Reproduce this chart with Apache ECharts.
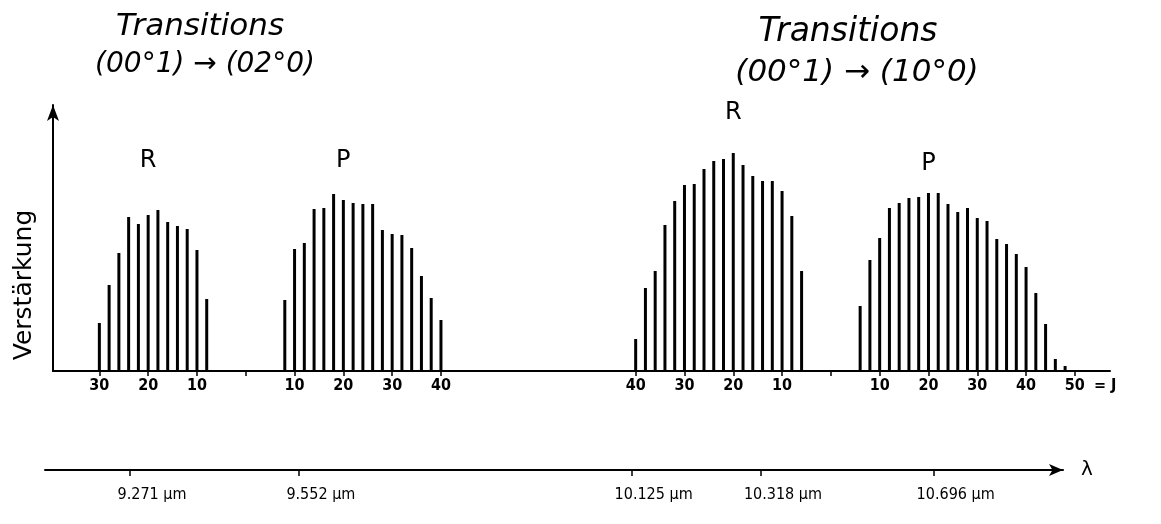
<!DOCTYPE html>
<html>
<head>
<meta charset="utf-8">
<script src="https://cdn.jsdelivr.net/npm/echarts@6/dist/echarts.min.js"></script>
<style>
  html, body { margin: 0; padding: 0; background: #fff; }
  #chart { width: 1161px; height: 524px; }
</style>
</head>
<body>
<div id="chart"></div>
<script>
// rotational lines J and relative gain (Verstärkung)
const rJ94 = [30, 28, 26, 24, 22, 20, 18, 16, 14, 12, 10, 8];
const rGain94 = [48, 86, 118, 154, 147, 156, 161, 149, 145, 142, 121, 72];
const pJ94 = [8, 10, 12, 14, 16, 18, 20, 22, 24, 26, 28, 30, 32, 34, 36, 38, 40];
const pGain94 = [71, 122, 128, 162, 163, 177, 171, 168, 167, 167, 141, 137, 136, 123, 95, 73, 51];
const rJ104 = [40, 38, 36, 34, 32, 30, 28, 26, 24, 22, 20, 18, 16, 14, 12, 10, 8, 6];
const rGain104 = [32, 83, 100, 146, 170, 186, 187, 202, 210, 212, 218, 206, 195, 190, 190, 180, 155, 100];
const pJ104 = [6, 8, 10, 12, 14, 16, 18, 20, 22, 24, 26, 28, 30, 32, 34, 36, 38, 40, 42, 44, 46, 48];
const pGain104 = [65, 111, 133, 163, 168, 173, 174, 178, 178, 167, 159, 163, 153, 150, 132, 127, 117, 104, 78, 47, 12, 5];

// J tick labels per branch
const rLabels94 = [30, 20, 10];
const pLabels94 = [10, 20, 30, 40];
const rLabels104 = [40, 30, 20, 10];
const pLabels104 = [10, 20, 30, 40, 50];

// wavelength marks on the lower axis
const lambdaLabels = ["9.271 µm", "9.552 µm", "10.125 µm", "10.318 µm", "10.696 µm"];

// layout (schematic axis, units of J): band centres and lambda tick places
const c94 = 39.5;
const c104 = 159.4;
const lambdaPos = [15.8, 50.4, 118.6, 145.1, 180.5];

const toR = (c, js, gs) => js.map((j, i) => [c - j, gs[i]]);
const toP = (c, js, gs) => js.map((j, i) => [c + j, gs[i]]);

const jLabels = [];
rLabels94.forEach((j) => jLabels.push({ v: c94 - j, t: String(j) }));
pLabels94.forEach((j) => jLabels.push({ v: c94 + j, t: String(j) }));
rLabels104.forEach((j) => jLabels.push({ v: c104 - j, t: String(j) }));
pLabels104.forEach((j) => jLabels.push({ v: c104 + j, t: String(j) }));
const jTicks = jLabels.map((d) => d.v).concat([c94, c104]);
jLabels.push({ v: 215.6, t: "= J" });

const lamLabelPos = lambdaPos.map((v) => v + 4.5);

const findText = (list, val) => {
  const hit = list.find((d) => Math.abs(d.v - val) < 1e-6);
  return hit ? hit.t : "";
};

const black = "#000";
const numFont = "'Liberation Sans Narrow', 'DejaVu Sans Condensed', sans-serif";
const handFont = "'DejaVu Sans', sans-serif";

let myChart = echarts.init(document.querySelector("#chart"));

const barStyle = {
  type: "bar",
  barWidth: 3,
  barGap: "-100%",
  itemStyle: { color: black },
  silent: true,
  animation: false,
};

let option = {
  backgroundColor: "#fff",
  animation: false,
  title: [
    { text: "Transitions", left: 195, top: 6, textAlign: "center",
      textStyle: { fontFamily: handFont, fontStyle: "italic", fontWeight: "normal", fontSize: 31, color: black } },
    { text: "(00°1) → (02°0)", left: 200, top: 46, textAlign: "center",
      textStyle: { fontFamily: handFont, fontStyle: "italic", fontWeight: "normal", fontSize: 28, color: black } },
    { text: "Transitions", left: 843, top: 11, textAlign: "center",
      textStyle: { fontFamily: handFont, fontStyle: "italic", fontWeight: "normal", fontSize: 33, color: black } },
    { text: "(00°1) → (10°0)", left: 852, top: 52, textAlign: "center",
      textStyle: { fontFamily: handFont, fontStyle: "italic", fontWeight: "normal", fontSize: 31, color: black } },
  ],
  grid: [
    { left: 53, right: 51, top: 105, bottom: 153 },
    { left: 45, right: 98, top: 440, bottom: 54 },
  ],
  xAxis: [
    {
      type: "value",
      gridIndex: 0,
      position: "bottom",
      min: 0,
      max: 216.6,
      axisLine: { lineStyle: { color: black, width: 2 } },
      axisTick: { show: true, customValues: jTicks, length: 5, lineStyle: { color: black, width: 1.5 } },
      axisLabel: {
        customValues: jLabels.map((d) => d.v),
        formatter: (val) => findText(jLabels, val),
        color: black,
        fontFamily: numFont,
        fontWeight: "bold",
        fontSize: 16,
        margin: 7,
      },
      splitLine: { show: false },
    },
    {
      type: "value",
      gridIndex: 1,
      position: "bottom",
      min: -1.64,
      max: 207,
      name: "λ",
      nameLocation: "end",
      nameGap: 18,
      nameTextStyle: { color: black, fontSize: 20, fontFamily: handFont },
      axisLine: { symbol: ["none", "arrow"], symbolSize: [9, 14], lineStyle: { color: black, width: 2 } },
      axisTick: { show: true, customValues: lambdaPos, length: 6, lineStyle: { color: black, width: 1.5 } },
      axisLabel: { show: false },
      splitLine: { show: false },
    },
    {
      type: "value",
      gridIndex: 1,
      position: "bottom",
      offset: 0,
      min: -1.64,
      max: 207,
      axisLine: { show: false },
      axisTick: { show: false },
      axisLabel: {
        customValues: lamLabelPos,
        formatter: (val) => lambdaLabels[lamLabelPos.findIndex((v) => Math.abs(v - val) < 1e-6)] || "",
        color: black,
        fontFamily: numFont,
        fontSize: 16,
        margin: 17,
      },
      splitLine: { show: false },
    },
  ],
  yAxis: [
    {
      type: "value",
      gridIndex: 0,
      min: 0,
      max: 266,
      axisLine: { show: true, symbol: ["none", "arrow"], symbolSize: [9, 16], lineStyle: { color: black, width: 2 } },
      axisTick: { show: false },
      axisLabel: { show: false },
      splitLine: { show: false },
    },
    {
      type: "value",
      gridIndex: 1,
      show: false,
    },
  ],
  series: [
    { ...barStyle, name: "R 9.4", data: toR(c94, rJ94, rGain94) },
    { ...barStyle, name: "P 9.4", data: toP(c94, pJ94, pGain94) },
    { ...barStyle, name: "R 10.4", data: toR(c104, rJ104, rGain104) },
    { ...barStyle, name: "P 10.4", data: toP(c104, pJ104, pGain104) },
  ],
};
myChart.setOption(option);

// branch letters above the J = 20 lines, and the y axis title
const px = (u) => myChart.convertToPixel({ gridIndex: 0 }, [u, 0])[0];
const letter = (t, u, y) => ({
  type: "text",
  x: px(u),
  y: y,
  style: { text: t, fill: black, font: "24px 'DejaVu Sans', sans-serif", textAlign: "center", textVerticalAlign: "middle" },
});
myChart.setOption({
  graphic: [
    letter("R", c94 - 20, 161),
    letter("P", c94 + 20, 161),
    letter("R", c104 - 20, 113),
    letter("P", c104 + 20, 164),
    {
      type: "text",
      x: 24,
      y: 285,
      rotation: Math.PI / 2,
      style: { text: "Verstärkung", fill: black, font: "25px 'DejaVu Sans', sans-serif", textAlign: "center", textVerticalAlign: "middle" },
    },
  ],
});

window.addEventListener("resize", () => {
  myChart.resize();
});
</script>
</body>
</html>
